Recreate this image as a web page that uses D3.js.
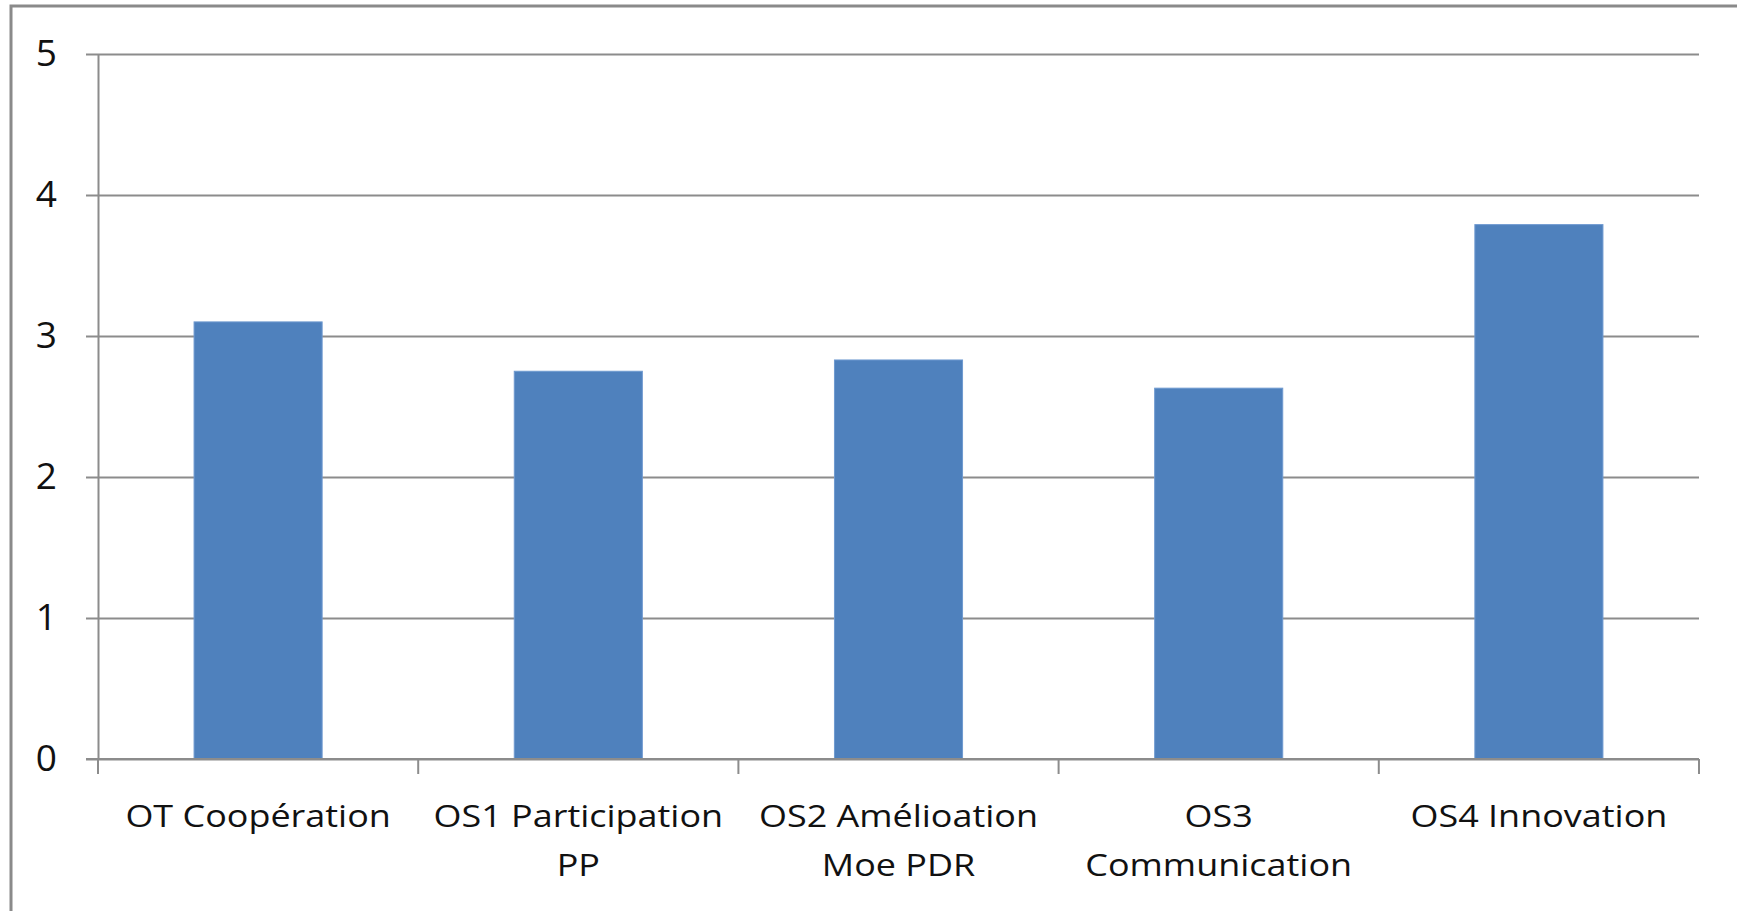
<!DOCTYPE html>
<html>
<head>
<meta charset="utf-8">
<script src="https://cdn.jsdelivr.net/npm/d3@7"></script>
<style>
  html, body { margin: 0; padding: 0; background: #fff; }
  svg { display: block; font-family: "Open Sans", sans-serif; }
</style>
</head>
<body>
<div id="chart"></div>
<script>
// category labels, one entry per line as wrapped in the original
const categories = [
  ['OT Coopération'],
  ['OS1 Participation', 'PP'],
  ['OS2 Amélioation', 'Moe PDR'],
  ['OS3', 'Communication'],
  ['OS4 Innovation']
];
const values = [3.1, 2.75, 2.83, 2.63, 3.79];
const yTicks = [0, 1, 2, 3, 4, 5];

const width = 1737,
  height = 911,
  margin = { top: 54, right: 38, bottom: 152, left: 98 };
const plotW = width - margin.left - margin.right,
  plotH = height - margin.top - margin.bottom;

const svg = d3.select('#chart')
  .append('svg')
  .attr('width', width)
  .attr('height', height);

// outer chart border (right and bottom run off the picture)
svg.append('rect')
  .attr('x', 11).attr('y', 6)
  .attr('width', width + 20).attr('height', height + 20)
  .attr('fill', 'none')
  .attr('stroke', '#8a8a8a')
  .attr('stroke-width', 3);

const g = svg.append('g')
  .attr('transform', 'translate(' + margin.left + ',' + margin.top + ')');

const x = d3.scaleBand()
  .domain(d3.range(categories.length))
  .range([0, plotW])
  .paddingInner(0)
  .paddingOuter(0);

const y = d3.scaleLinear()
  .domain([0, 5])
  .range([plotH, 0]);

// gridlines + y axis
const yAxis = g.append('g')
  .call(d3.axisLeft(y).tickValues(yTicks).tickFormat(d3.format('d'))
    .tickSizeInner(-plotW).tickSizeOuter(0).tickPadding(41));
yAxis.select('.domain').attr('stroke', '#8c8c8c').attr('stroke-width', 2);
yAxis.selectAll('.tick line')
  .attr('x1', -12)
  .attr('stroke', '#8c8c8c')
  .attr('stroke-width', 2);
yAxis.selectAll('.tick text')
  .attr('font-size', 37)
  .attr('fill', '#111')
  .attr('font-family', '"Open Sans", sans-serif');

// bars
const barW = x.bandwidth() / 2.5;
g.selectAll('.bar')
  .data(values)
  .enter().append('rect')
  .attr('class', 'bar')
  .attr('x', function(d, i) { return x(i) + (x.bandwidth() - barW) / 2; })
  .attr('y', function(d) { return y(d); })
  .attr('width', barW)
  .attr('height', function(d) { return plotH - y(d); })
  .attr('fill', '#4f81bd')
  .attr('stroke', '#6f9ad0')
  .attr('stroke-width', 1);

// x axis line and boundary ticks
g.append('line')
  .attr('x1', -12).attr('x2', plotW)
  .attr('y1', plotH).attr('y2', plotH)
  .attr('stroke', '#8c8c8c').attr('stroke-width', 2);

const bounds = d3.range(categories.length + 1).map(function(i) { return i * x.step(); });
g.selectAll('.xtick')
  .data(bounds)
  .enter().append('line')
  .attr('class', 'xtick')
  .attr('x1', function(d) { return d; })
  .attr('x2', function(d) { return d; })
  .attr('y1', plotH)
  .attr('y2', plotH + 15)
  .attr('stroke', '#8c8c8c').attr('stroke-width', 2);

// category labels (source font is wider than Open Sans, so stretch a little)
const lbl = g.selectAll('.xlabel')
  .data(categories)
  .enter().append('text')
  .attr('class', 'xlabel')
  .attr('text-anchor', 'middle')
  .attr('font-size', 31)
  .attr('fill', '#111')
  .attr('transform', function(d, i) {
    return 'translate(' + (x(i) + x.bandwidth() / 2) + ',' + (plotH + 68) + ') scale(1.16,1)';
  });

lbl.selectAll('tspan')
  .data(function(d) { return d; })
  .enter().append('tspan')
  .attr('x', 0)
  .attr('y', function(d, i) { return i * 49; })
  .text(function(d) { return d; });
</script>
</body>
</html>
